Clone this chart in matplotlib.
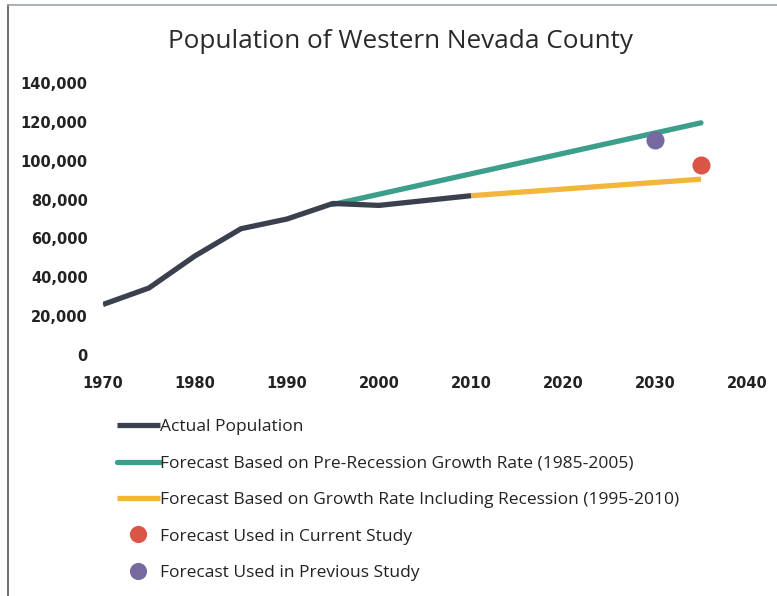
import matplotlib
matplotlib.use("Agg")
import matplotlib.pyplot as plt
from matplotlib.lines import Line2D
from matplotlib.ticker import FuncFormatter

# ---- data ----
actual_years = [1970, 1975, 1980, 1985, 1990, 1995, 2000, 2010]
actual_pop = [26000, 34500, 51000, 65000, 70000, 78000, 77000, 82000]

pre_years = [1995, 2035]
pre_pop = [77500, 119500]

rec_years = [2010, 2035]
rec_pop = [82000, 90500]

current_year = [2035]
current_pop = [98000]

previous_year = [2030]
previous_pop = [110500]

x_ticks = [1970, 1980, 1990, 2000, 2010, 2020, 2030, 2040]
y_ticks = [0, 20000, 40000, 60000, 80000, 100000, 120000, 140000]

labels = ["Actual Population",
          "Forecast Based on Pre-Recession Growth Rate (1985-2005)",
          "Forecast Based on Growth Rate Including Recession (1995-2010)",
          "Forecast Used in Current Study",
          "Forecast Used in Previous Study"]

c_actual = "#3a404e"
c_pre = "#3c9f8c"
c_rec = "#f2b63c"
c_cur = "#da5546"
c_prev = "#7868a0"

W, H = 777, 596
fig = plt.figure(figsize=(W / 100, H / 100), dpi=100)
fig.patch.set_facecolor("white")

ax = fig.add_axes([103 / W, 1 - 355 / H, (747 - 103) / W, (355 - 83) / H])
ax.set_xlim(1970, 2040)
ax.set_ylim(0, 140000)

lw = 3.8
l_pre, = ax.plot(pre_years, pre_pop, color=c_pre, lw=lw, solid_capstyle="round", zorder=2)
l_rec, = ax.plot(rec_years, rec_pop, color=c_rec, lw=lw, solid_capstyle="butt", zorder=2)
l_act, = ax.plot(actual_years, actual_pop, color=c_actual, lw=lw, solid_capstyle="butt", zorder=3)
m_cur, = ax.plot(current_year, current_pop, "o", color=c_cur, ms=13, mec="none", zorder=4)
m_prev, = ax.plot(previous_year, previous_pop, "o", color=c_prev, ms=13, mec="none", zorder=4)

for s in ax.spines.values():
    s.set_visible(False)
ax.set_xticks(x_ticks)
ax.set_yticks(y_ticks)
ax.yaxis.set_major_formatter(FuncFormatter(lambda v, p: f"{int(v):,}"))
ax.tick_params(length=0, labelsize=10.5, colors="#222222")
ax.tick_params(axis="y", pad=11)
ax.tick_params(axis="x", pad=15)
for t in ax.get_xticklabels() + ax.get_yticklabels():
    t.set_fontweight("bold")
    t.set_fontfamily("DejaVu Sans")

fig.text(400 / W, 1 - 42 / H, "Population of Western Nevada County",
         ha="center", va="center", fontsize=18.8, family="Open Sans", color="#2a2a2a")

leg = fig.legend([l_act, l_pre, l_rec, m_cur, m_prev], labels,
                 loc="upper left", bbox_to_anchor=(117 / W, 1 - 419 / H),
                 frameon=False, borderpad=0, borderaxespad=0,
                 handlelength=2.45, handletextpad=0.05, labelspacing=1.17,
                 prop={"family": "Open Sans", "size": 12.5}, markerscale=0.95)
for t in leg.get_texts():
    t.set_color("#222222")

# border of the scanned frame
fig.add_artist(Line2D([8 / W, 8 / W], [0, 1 - 5 / H], color="#555555", lw=1.2))
fig.add_artist(Line2D([8 / W, 1], [1 - 5 / H, 1 - 5 / H], color="#9aa3ad", lw=1.2))

fig.savefig("out.png", dpi=100, facecolor="white")
